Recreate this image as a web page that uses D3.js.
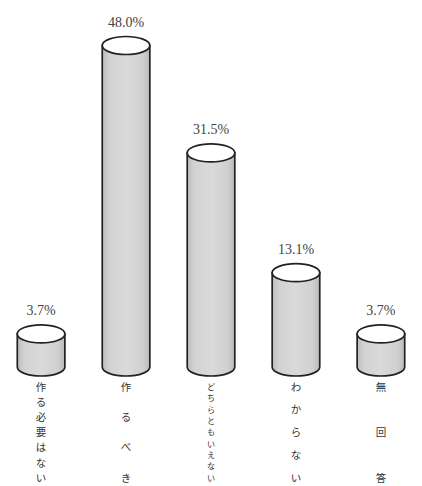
<!DOCTYPE html>
<html><head><meta charset="utf-8">
<script src="https://cdn.jsdelivr.net/npm/d3@7"></script>
<style>html,body{margin:0;padding:0;background:#fff;}svg{display:block;}</style>
</head><body>
<svg id="chart" width="422" height="486"></svg>
<script>
const categories = ["作る必要はない", "作るべき", "どちらともいえない", "わからない", "無回答"];
const values = [3.7, 48.0, 31.5, 13.1, 3.7];
const valueLabels = ["3.7%", "48.0%", "31.5%", "13.1%", "3.7%"];

const svg = d3.select("#chart");
const x = d3.scaleBand().domain(categories).range([-1.4, 423.4]).paddingInner(0.44).paddingOuter(0.22);
const y = d3.scaleLinear().domain([0, 48]).range([358, 45.5]);
const baseY = y(0) + 9;
const rx = x.bandwidth() / 2, ry = 9;

const defs = svg.append("defs");
const grad = defs.append("linearGradient").attr("id", "cyl").attr("x1", 0).attr("x2", 1).attr("y1", 0).attr("y2", 0);
grad.append("stop").attr("offset", "0%").attr("stop-color", "#bdbdbd");
grad.append("stop").attr("offset", "15%").attr("stop-color", "#d2d2d2");
grad.append("stop").attr("offset", "50%").attr("stop-color", "#dadada");
grad.append("stop").attr("offset", "85%").attr("stop-color", "#d0d0d0");
grad.append("stop").attr("offset", "100%").attr("stop-color", "#b9b9b9");

const g = svg.append("g").selectAll("g").data(categories).join("g")
  .attr("transform", d => `translate(${x(d) + rx},0)`);

g.append("path")
  .attr("d", (d, i) => {
    const t = y(values[i]);
    return `M${-rx},${t} L${-rx},${baseY} A${rx},${ry} 0 0 0 ${rx},${baseY} L${rx},${t} Z`;
  })
  .attr("fill", "url(#cyl)")
  .attr("stroke", "#222").attr("stroke-width", 1.7);

g.append("ellipse")
  .attr("cx", 0).attr("cy", (d, i) => y(values[i]))
  .attr("rx", rx).attr("ry", ry)
  .attr("fill", "#fff").attr("stroke", "#222").attr("stroke-width", 1.7);

g.append("text")
  .attr("x", 0).attr("y", (d, i) => y(values[i]) - ry - 10)
  .attr("text-anchor", "middle")
  .attr("font-family", "'Liberation Serif','DejaVu Serif',serif")
  .attr("font-size", 14).attr("fill", "#444")
  .text((d, i) => valueLabels[i]);

const labTop = 387, labBot = 478;
g.each(function(d) {
  const chars = Array.from(d);
  const n = chars.length;
  const step = n > 1 ? (labBot - labTop) / (n - 1) : 0;
  const fs = Math.min(10.5, step / 1.4);
  d3.select(this).selectAll("text.cat").data(chars).join("text")
    .attr("class", "cat")
    .attr("x", 0)
    .attr("y", (c, j) => labTop + j * step)
    .attr("dy", "0.35em")
    .attr("text-anchor", "middle")
    .attr("font-family", "'Noto Sans CJK JP',sans-serif")
    .attr("font-size", fs).attr("fill", "#333")
    .text(c => c);
});
</script>
</body></html>
